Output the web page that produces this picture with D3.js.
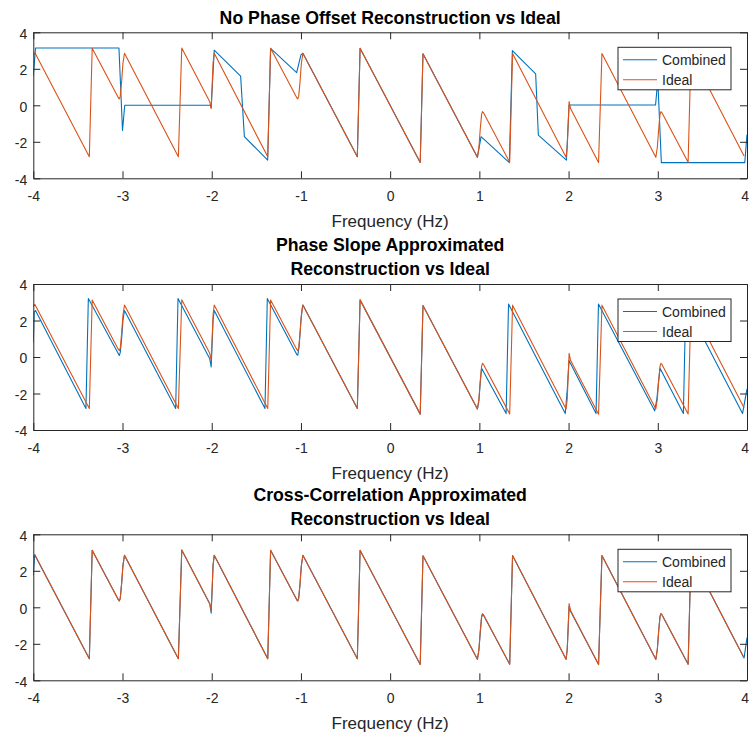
<!DOCTYPE html>
<html><head><meta charset="utf-8">
<script src="https://cdn.jsdelivr.net/npm/d3@7"></script>
<style>body{margin:0;background:#fff;} svg{display:block;font-family:"Liberation Sans",Arial,Helvetica,sans-serif;}</style>
</head><body><svg id="c" width="749" height="735"></svg>
<script>
const xTicks = [-4,-3,-2,-1,0,1,2,3,4];
const yTicks = [-4,-2,0,2,4];
const seriesNames = ["Combined","Ideal"];
const titles = [
  ["No Phase Offset Reconstruction vs Ideal"],
  ["Phase Slope Approximated","Reconstruction vs Ideal"],
  ["Cross-Correlation Approximated","Reconstruction vs Ideal"]
];
const xLabel = "Frequency (Hz)";

const idealPts = [
  [-4.000, 2.76],[-3.982, 2.88],[-3.372,-2.82],[-3.340, 3.12],
  [-3.045, 0.40],[-3.035, 0.35],[-3.025, 0.50],[-3.010, 1.30],[-2.995, 2.30],[-2.978, 2.85],
  [-2.374,-2.82],[-2.336, 3.14],
  [-2.022, 0.20],[-2.006,-0.18],[-1.995, 1.10],[-1.985, 2.30],[-1.972, 2.85],
  [-1.372,-2.82],[-1.340, 3.12],
  [-1.045, 0.40],[-1.035, 0.35],[-1.025, 0.50],[-1.010, 1.30],[-0.995, 2.30],[-0.978, 2.85],
  [-0.368,-2.82],[-0.337, 3.13],[0.337,-3.13],[0.368, 2.82],
  [0.978,-2.85],[0.995,-2.30],[1.010,-1.30],[1.025,-0.50],[1.035,-0.35],[1.045,-0.40],
  [1.340,-3.12],[1.372, 2.84],
  [1.972,-2.85],[1.985,-2.30],[1.995,-1.10],[2.006, 0.20],[2.022,-0.18],
  [2.336,-3.14],[2.374, 2.84],
  [2.978,-2.85],[2.995,-2.30],[3.010,-1.30],[3.025,-0.50],[3.035,-0.35],[3.045,-0.40],
  [3.340,-3.12],[3.372, 2.84],[3.967,-2.78]
];

const noOffsetPts = [
  [-4.000, 1.60],[-3.975, 3.14],[-3.040, 3.14],[-3.000,-1.38],[-2.975, 0.00],
  [-2.020, 0.00],[-2.006,-0.12],[-1.972, 3.02],[-1.676, 1.60],[-1.634,-1.72],
  [-1.373,-3.00],[-1.340, 3.12],[-1.048, 1.79],[-1.000, 2.76],[-0.978, 2.85],
  [-0.368,-2.82],[-0.337, 3.13],[0.337,-3.13],[0.368, 2.82],[0.978,-2.85],
  [1.019,-1.72],[1.336,-3.14],[1.370, 3.00],[1.631, 1.72],[1.661,-1.63],
  [1.976,-3.00],[2.006, 0.02],[2.975, 0.02],[3.000, 1.38],[3.040,-3.14],
  [3.975,-3.14],[4.000,-1.60]
];

const phaseSlopePts = [
  [-4.000, 0.80],[-3.990, 2.45],[-3.975, 2.55],[-3.410,-2.82],[-3.383, 3.20],
  [-3.036, 0.08],[-3.025, 0.25],[-3.010, 1.00],[-2.995, 2.00],[-2.978, 2.55],
  [-2.404,-2.82],[-2.378, 3.20],
  [-2.022,-0.10],[-2.006,-0.55],[-1.995, 0.80],[-1.985, 2.00],[-1.972, 2.55],
  [-1.403,-2.82],[-1.377, 3.20],
  [-1.045, 0.12],[-1.035, 0.10],[-1.020, 0.60],[-1.000, 2.00],[-0.985, 2.70],[-0.978, 2.85],
  [-0.368,-2.82],[-0.337, 3.13],[0.337,-3.13],[0.368, 2.82],
  [0.978,-2.85],[0.995,-2.40],[1.010,-1.40],[1.025,-0.62],
  [1.300,-3.10],[1.327, 2.90],
  [1.963,-3.10],[1.985,-1.80],[2.005,-0.19],
  [2.308,-3.10],[2.335, 2.90],
  [2.965,-2.95],[2.990,-2.30],[3.005,-1.50],[3.025,-0.62],
  [3.287,-3.10],[3.313, 2.90],[3.950,-3.10],[4.000,-1.75]
];

const crossCorrPts = [
  [-4.000, 1.75],[-3.985, 2.88],[-3.372,-2.82],[-3.340, 3.12],
  [-3.045, 0.40],[-3.035, 0.35],[-3.025, 0.50],[-3.010, 1.30],[-2.995, 2.30],[-2.978, 2.85],
  [-2.374,-2.82],[-2.336, 3.14],
  [-2.022, 0.20],[-2.006,-0.32],[-1.995, 1.00],[-1.985, 2.30],[-1.972, 2.85],
  [-1.372,-2.82],[-1.340, 3.12],
  [-1.045, 0.40],[-1.035, 0.35],[-1.025, 0.50],[-1.010, 1.30],[-0.995, 2.30],[-0.978, 2.85],
  [-0.368,-2.82],[-0.337, 3.13],[0.337,-3.13],[0.368, 2.82],
  [0.978,-2.85],[0.995,-2.35],[1.010,-1.40],[1.025,-0.55],[1.035,-0.38],[1.045,-0.42],
  [1.340,-3.12],[1.372, 2.84],
  [1.972,-2.85],[1.985,-2.30],[1.995,-1.20],[2.006, 0.05],[2.022,-0.22],
  [2.336,-3.14],[2.374, 2.84],
  [2.978,-2.85],[2.995,-2.30],[3.010,-1.30],[3.025,-0.50],[3.035,-0.35],[3.045,-0.40],
  [3.340,-3.12],[3.372, 2.84],[3.967,-2.78],[4.000,-1.66]
];

const combinedSets = [noOffsetPts, phaseSlopePts, crossCorrPts];
const colors = ["#0072BD","#D95319"];

const svg = d3.select("#c");
const L = 33.3, R = 747, H = 146;
const tops = [32.3, 284, 534.3];
const textCol = "#262626";

const x = d3.scaleLinear().domain([-4,4]).range([L,R]);

tops.forEach((top,i)=>{
  const y = d3.scaleLinear().domain([-4,4]).range([top+H, top]);
  const g = svg.append("g");
  const cid = "clip"+i;
  svg.append("clipPath").attr("id",cid).append("rect")
     .attr("x",L).attr("y",top).attr("width",R-L).attr("height",H);

  const line = d3.line().x(d=>x(d[0])).y(d=>y(d[1]));
  const lines = g.append("g").attr("clip-path",`url(#${cid})`);
  lines.append("path").datum(combinedSets[i]).attr("d",line)
    .attr("fill","none").attr("stroke",colors[0]).attr("stroke-width",1.1).attr("stroke-linejoin","round");
  lines.append("path").datum(idealPts).attr("d",line)
    .attr("fill","none").attr("stroke",colors[1]).attr("stroke-width",1.1).attr("stroke-linejoin","round");

  const fmt = d=>String(d);
  const ab = g.append("g").attr("transform",`translate(0,${top+H})`)
    .call(d3.axisBottom(x).tickValues(xTicks).tickSizeInner(-7).tickSizeOuter(0).tickPadding(13).tickFormat(fmt));
  const at = g.append("g").attr("transform",`translate(0,${top})`)
    .call(d3.axisTop(x).tickValues(xTicks).tickSizeInner(-7).tickSizeOuter(0).tickFormat(""));
  const al = g.append("g").attr("transform",`translate(${L},0)`)
    .call(d3.axisLeft(y).tickValues(yTicks).tickSizeInner(-7).tickSizeOuter(0).tickPadding(6).tickFormat(fmt));
  const ar = g.append("g").attr("transform",`translate(${R},0)`)
    .call(d3.axisRight(y).tickValues(yTicks).tickSizeInner(-7).tickSizeOuter(0).tickFormat(""));
  [ab,at,al,ar].forEach(a=>{
    a.attr("font-family",null).attr("font-size",null);
    a.selectAll("path,line").attr("stroke",textCol).attr("stroke-width",1);
    a.selectAll("text").attr("fill",textCol).style("font-size","14px");
  });
  al.selectAll("text").attr("dy","0.42em");
  // keep the last x label inside the page
  ab.selectAll(".tick text").filter(d=>d===xTicks[xTicks.length-1])
    .attr("text-anchor","end").attr("x",1.5);

  g.append("text").attr("x",(L+R)/2).attr("y",top+H+49)
    .attr("text-anchor","middle").attr("fill",textCol).style("font-size","17px").text(xLabel);

  const tl = titles[i];
  tl.forEach((t,j)=>{
    const base = tl.length===1 ? top-8.3 : top-33+j*24;
    g.append("text").attr("x",(L+R)/2).attr("y",base)
      .attr("text-anchor","middle").attr("fill","#000").style("font-size","17.7px").style("font-weight","bold").text(t);
  });

  const lg = g.append("g");
  lg.append("rect").attr("x",618).attr("y",top+15).attr("width",113).attr("height",42.5)
    .attr("fill","#fff").attr("stroke",textCol).attr("stroke-width",1);
  seriesNames.forEach((n,k)=>{
    const yy = top+27.5+k*20;
    lg.append("line").attr("x1",623).attr("x2",657).attr("y1",yy).attr("y2",yy)
      .attr("stroke",colors[k]).attr("stroke-width",1.1);
    lg.append("text").attr("x",662).attr("y",yy+5).attr("fill",textCol).style("font-size","14px").text(n);
  });
});
</script></body></html>
